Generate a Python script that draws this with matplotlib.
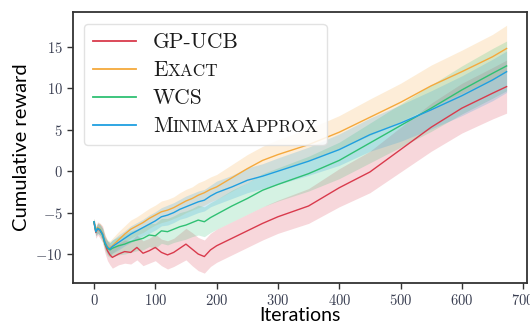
import matplotlib
matplotlib.use("Agg")
import matplotlib.pyplot as plt
from matplotlib.offsetbox import HPacker, TextArea
from matplotlib.ticker import FuncFormatter
import numpy as np

plt.rcParams['mathtext.fontset'] = 'cm'

iters = [0, 3, 6, 10, 14, 18, 22, 26, 30, 40, 50, 60, 70, 80, 90, 100, 110, 120,
         130, 140, 150, 160, 170, 180, 190, 200, 225, 250, 275, 300, 350, 400,
         450, 500, 550, 600, 650, 673]

gp_ucb = [-6.2, -7.4, -6.9, -7.2, -7.6, -8.8, -9.6, -10.1, -10.4, -10.0, -9.7, -9.8,
          -9.2, -9.9, -9.6, -9.2, -9.8, -10.1, -9.8, -9.3, -8.8, -9.4, -10.0, -10.3,
          -9.5, -9.0, -8.1, -7.2, -6.3, -5.5, -4.2, -2.0, -0.1, 2.6, 5.3, 7.6, 9.4, 10.2]
exact = [-6.1, -7.2, -6.8, -7.0, -7.5, -8.5, -9.1, -9.3, -9.0, -8.3, -7.6, -7.0,
         -6.6, -6.2, -5.7, -5.3, -4.9, -4.7, -4.4, -4.0, -3.6, -3.3, -2.9, -2.6,
         -2.2, -1.9, -0.8, 0.3, 1.3, 2.0, 3.2, 4.7, 6.5, 8.3, 10.3, 12.0, 13.8, 14.8]
wcs = [-6.1, -7.3, -6.9, -7.1, -7.7, -8.8, -9.3, -9.5, -9.3, -9.0, -8.8, -8.5,
       -8.3, -8.1, -7.7, -7.8, -7.2, -7.3, -7.0, -6.7, -6.5, -6.2, -5.9, -6.1,
       -5.6, -5.2, -4.2, -3.3, -2.3, -1.6, -0.3, 1.3, 3.4, 5.5, 7.6, 9.8, 11.8, 12.7]
minimax = [-6.1, -7.3, -6.9, -7.1, -7.6, -8.6, -9.2, -9.4, -9.1, -8.6, -8.1, -7.6,
           -7.2, -6.8, -6.4, -6.0, -5.5, -5.3, -5.0, -4.6, -4.3, -4.0, -3.7, -3.5,
           -3.0, -2.6, -1.9, -1.1, -0.6, 0.0, 1.2, 2.6, 4.4, 5.8, 7.4, 9.1, 11.0, 12.0]

# half widths of the shaded bands
gp_ucb_err = [0.5, 0.7, 0.8, 0.9, 1.0, 1.1, 1.2, 1.2, 1.3, 1.3, 1.4, 1.4, 1.5, 1.5,
              1.5, 1.6, 1.6, 1.7, 1.7, 1.8, 1.9, 2.0, 2.0, 2.0, 2.0, 2.0, 2.0, 2.0,
              2.0, 2.0, 2.1, 2.3, 2.5, 2.7, 2.9, 3.0, 3.1, 3.2]
exact_err = [0.4, 0.5, 0.6, 0.7, 0.7, 0.8, 0.8, 0.9, 0.9, 1.0, 1.0, 1.1, 1.1, 1.2,
             1.2, 1.2, 1.3, 1.3, 1.3, 1.4, 1.4, 1.4, 1.5, 1.5, 1.5, 1.5, 1.6, 1.7,
             1.7, 1.8, 1.9, 2.0, 2.2, 2.3, 2.5, 2.6, 2.7, 2.8]
wcs_err = [0.4, 0.5, 0.6, 0.7, 0.8, 0.8, 0.9, 0.9, 1.0, 1.1, 1.2, 1.3, 1.3, 1.4,
           1.4, 1.5, 1.5, 1.6, 1.6, 1.7, 1.7, 1.7, 1.8, 1.8, 1.8, 1.8, 1.9, 1.9,
           2.0, 2.0, 2.1, 2.2, 2.4, 2.6, 2.8, 2.9, 3.0, 3.0]
minimax_err = [0.4, 0.5, 0.6, 0.6, 0.7, 0.7, 0.8, 0.8, 0.8, 0.9, 0.9, 1.0, 1.0, 1.0,
               1.1, 1.1, 1.1, 1.2, 1.2, 1.2, 1.3, 1.3, 1.3, 1.3, 1.3, 1.4, 1.4, 1.5,
               1.5, 1.6, 1.7, 1.9, 2.0, 2.2, 2.3, 2.4, 2.5, 2.5]

names = ['GP-UCB', 'E', 'WCS', 'M']
colors = ['#d93a4c', '#f5a93c', '#2fc073', '#1f9fe0']
series = [gp_ucb, exact, wcs, minimax]
errs = [gp_ucb_err, exact_err, wcs_err, minimax_err]

fig = plt.figure(figsize=(5.3, 3.25), dpi=100)
ax = fig.add_axes([0.138, 0.129, 0.856, 0.834])

x = np.array(iters)
for name, c, m, e in zip(names, colors, series, errs):
    m = np.array(m)
    e = np.array(e)
    ax.fill_between(x, m - e, m + e, color=c, alpha=0.2, lw=0)
    ax.plot(x, m, color=c, lw=1.0, label=name)

ax.set_xlim(-34, 706)
ax.set_ylim(-13.5, 19.2)
ax.set_xticks([0, 100, 200, 300, 400, 500, 600, 700])
ax.set_yticks([-10, -5, 0, 5, 10, 15])
ax.xaxis.set_major_formatter(FuncFormatter(lambda v, p: r'$%d$' % v))
ax.yaxis.set_major_formatter(FuncFormatter(lambda v, p: r'$%d$' % v))
ax.tick_params(direction='out', length=4, width=1, colors='#333333',
               labelsize=10.5, labelcolor='#3a3f52')
for s in ax.spines.values():
    s.set_color('#333333')
    s.set_linewidth(1.3)

ax.set_xlabel('Iterations', family='Lato', fontsize=14, labelpad=-1)
ax.set_ylabel('Cumulative reward', family='Lato', fontsize=14.5, labelpad=4)

leg = ax.legend(loc='upper left', bbox_to_anchor=(0.024, 0.956), borderaxespad=0,
                prop={'family': 'cmr10', 'size': 15.5}, handlelength=2.0,
                handletextpad=0.8, labelspacing=0.4, borderpad=0.4,
                fancybox=True, framealpha=0.85, edgecolor='#dddddd')
for line in leg.get_lines():
    line.set_linewidth(1.3)

# small caps labels for Exact and MinimaxApprox
big = {'family': 'cmr10', 'size': 15.5, 'color': '#1a1a1a'}
small = {'family': 'cmr10', 'size': 12.4, 'color': '#1a1a1a'}
smallcaps = {1: [('E', big), ('XACT', small)],
             3: [('M', big), ('INIMAX', small), ('A', big), ('PPROX', small)]}
column = leg._legend_handle_box.get_children()[0]
rows = column.get_children()
for i in range(len(rows)):
    row = rows[i]
    kids = row.get_children()
    if i in smallcaps:
        parts = [TextArea(t, textprops=dict(p, verticalalignment='baseline'))
                 for t, p in smallcaps[i]]
        box = HPacker(children=parts, sep=0, pad=0, align='baseline')
        box.set_figure(fig)
        kids[1] = box
    else:
        kids[1]._text.set_color('#1a1a1a')

fig.savefig('out.png', dpi=100)
